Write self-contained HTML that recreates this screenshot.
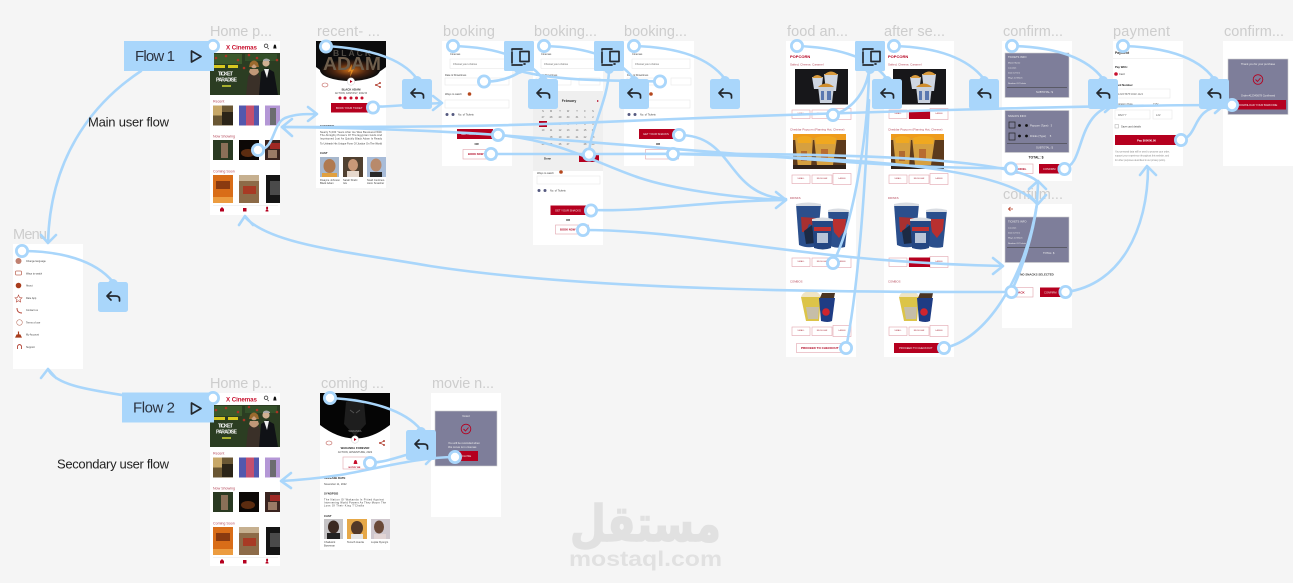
<!DOCTYPE html>
<html lang="en"><head><meta charset="utf-8"><title>User flow diagram</title>
<style>
html,body{margin:0;padding:0;background:#f5f5f5;width:1293px;height:583px;overflow:hidden}
svg{display:block;font-family:"Liberation Sans","DejaVu Sans",sans-serif;filter:blur(.3px)}
.t{fill:#cdcdcd;font-size:14.5px}
.c{fill:#a9d6fb;stroke:none}
.ln{fill:none;stroke:#a9d6fb;stroke-width:2.6;stroke-linecap:round;stroke-linejoin:round}
.n{fill:#fff;stroke:#a9d6fb;stroke-width:2.8}
.i{fill:none;stroke:#24292f;stroke-width:1.7;stroke-linecap:round;stroke-linejoin:round}
.s{font-size:2.6px;fill:#444}
.b{font-size:2.8px;fill:#222;font-weight:bold}
.w{font-size:2.7px;fill:#eee}
.r{font-size:3.6px;fill:#b5485a}
.m{font-size:3px;fill:#b0001e;font-weight:bold}
.hl{font-size:2.6px;fill:#666;font-style:italic}
.box{fill:#fff;stroke:#e2a4ae;stroke-width:.6}
.red{fill:#b5001f}
.dd{fill:#fff;stroke:#e8e8e8;stroke-width:.6}
.panel{fill:#7e7e9a;stroke:#d0d0d0;stroke-width:.6}
</style></head><body>
<svg width="1293" height="583" viewBox="0 0 1293 583" xmlns="http://www.w3.org/2000/svg">
<defs>
<radialGradient id="glow" cx="50%" cy="50%" r="50%"><stop offset="0" stop-color="#c86a18"/><stop offset=".55" stop-color="#4a2410"/><stop offset="1" stop-color="#0b0b0c"/></radialGradient>
<g id="reply"><circle class="c" cx="15" cy="2" r="5"/><rect class="c" width="30" height="30" rx="2.5"/><path class="i" d="M21.500 19v-2q0-3-4-3H9M13 10 9 14l4 4"/></g>
<g id="copy"><circle class="c" cx="15" cy="28" r="5"/><rect class="c" width="30" height="30" rx="1.5"/><path class="i" d="M18 8H8V24H18" stroke-dasharray="11 2"/><rect class="i" x="16" y="10.500" width="9" height="10"/><path class="i" d="M20 23h1"/></g>
<g id="homeimg">
<rect x="210" y="53" width="70" height="42" fill="#2b3d22"/>
<rect x="212" y="54" width="30" height="10" fill="#3c5a2c"/><rect x="245" y="54" width="32" height="7" fill="#34502a"/>
<g fill="#a83424"><circle cx="216" cy="58" r="1.300"/><circle cx="226" cy="56" r="1.300"/><circle cx="238" cy="60" r="1.300"/><circle cx="249" cy="55" r="1.300"/><circle cx="257" cy="58" r="1.300"/><circle cx="277" cy="60" r="1.300"/><circle cx="244" cy="68" r="1.300"/></g>
<path d="M246 95l2-18 3-6h6l3 6 1 18z" fill="#3a3028"/><path d="M249 72q5 7 10 0l-1-3h-8z" fill="#c09878"/><circle cx="254" cy="65" r="3.300" fill="#c8a080"/><path d="M250 63q4-5 8 0l1 4h-2l-3-3-3 3h-2z" fill="#9a6a2e"/>
<path d="M259 95l2-23 6-4 7 4 4 23z" fill="#101216"/><circle cx="266" cy="63" r="3.600" fill="#d0b092"/><path d="M264 69h5l-2 9z" fill="#eee"/><path d="M263 60q3-3 7 0v1h-7z" fill="#aaa"/>
<rect x="214" y="65" width="11" height="3" fill="#d8c820"/><rect x="228" y="65" width="10" height="3" fill="#d8c820"/>
<rect x="222" y="85" width="9" height="2" fill="#a8b030"/>
<rect x="213" y="105.500" width="20" height="20" fill="#6a5734"/><rect x="213" y="105.500" width="9" height="10" fill="#c8a868"/><rect x="222" y="112" width="11" height="13" fill="#2b2418"/>
<rect x="239" y="105.500" width="20" height="20" fill="#5458ad"/><rect x="246" y="105.500" width="8" height="20" fill="#c4506e"/>
<rect x="265" y="105.500" width="15" height="20" fill="#b497d6"/><rect x="270" y="108" width="6" height="17" fill="#6c6c70"/>
<rect x="213" y="140" width="20" height="20" fill="#2a3a22"/><rect x="221" y="143" width="7" height="15" fill="#8a7058"/>
<rect x="239" y="140" width="20" height="20" fill="#0c0806"/><ellipse cx="248" cy="153" rx="7" ry="4" fill="#5c2c10"/>
<rect x="265" y="140" width="15" height="20" fill="#3a2420"/><rect x="270" y="143" width="10" height="6" fill="#a02824"/><rect x="268" y="150" width="9" height="8" fill="#9a7a66"/>
<rect x="213" y="175" width="20" height="28" fill="#d96d18"/><rect x="216" y="181" width="14" height="8" fill="#8a3a10"/><rect x="213" y="197" width="20" height="6" fill="#ec9c40"/>
<rect x="239" y="175" width="20" height="28" fill="#8d6b48"/><rect x="243" y="186" width="13" height="8" fill="#a83a24"/><rect x="239" y="175" width="20" height="6" fill="#c6b090"/>
<rect x="266" y="175" width="14" height="28" fill="#151515"/><rect x="270" y="181" width="10" height="14" fill="#4a4a4a"/>
<rect x="213" y="205" width="65" height=".5" fill="#e6e6e6"/>
<g fill="#b5001f"><path d="M220 211.500v-2.500l2-2 2 2v2.500z"/><rect x="243" y="208" width="3.500" height="3.500"/><path d="M265.500 211.500q0-2 1.500-2t1.500 2zM266.200 208a1 1 0 1 0 1.800 0 1 1 0 1 0-1.800 0"/></g>
<path d="M266 44a1.800 1.800 0 1 0 .1 0zM267.500 47.800l1.300 1.300" fill="none" stroke="#333" stroke-width=".7"/>
<path d="M273.200 48.500c.5-1 .3-4 1.700-4s1.200 3 1.700 4z" fill="#111"/>
</g>
<g id="foodimg">
<rect x="9" y="28" width="53" height="35.500" fill="#17171a"/>
<path d="M26 36h11l-1.500 12H28zM38 33h14l-2 17H40z" fill="#cfd6e2"/><path d="M26 37q5-6 11 0zM38 34q7-7 14 0z" fill="#d99a3c"/>
<path d="M32 45h16l-2 17H34z" fill="#c8d0dc"/><path d="M32 46q8-7 16 0z" fill="#cf8d2e"/><path d="M35 50h3v9h-3zM41 50h4v9h-4z" fill="#5a78b0"/>
<rect x="7" y="93" width="53" height="35" fill="#5c3a1c"/><rect x="7" y="93" width="53" height="6" fill="#ee9c1c"/><path d="M9 97h18l-2 30H12zM28 97h23l-4 27H31z" fill="#d6a040"/><path d="M11 97q8-4 15 0l-1 5H12zM29 97q11-4 21 0l-1 6H30z" fill="#f0a820"/><rect x="15" y="110" width="6" height="10" fill="#b06a30"/><rect x="35" y="108" width="7" height="10" fill="#b86c30"/><rect x="7" y="124" width="53" height="4" fill="#30221a"/>
<path d="M10 163l3 41q9 4 18 1l4-42z" fill="#2b4f8c"/><path d="M15 176l15 1-2 8-5-2-3 8h-4z" fill="#a83030"/><path d="M18 190l8-6 3 18-9 1z" fill="#1c2a44"/>
<path d="M42 169l2 36q8 3 15 1l4-37z" fill="#2b4f8c"/><path d="M46 178h14l-1 11-6 8-5-6z" fill="#b83030"/>
<path d="M10 163q12-3 25 0v2H10zM42 169q10-3 21 0v2H42z" fill="#d8dce2"/>
<path d="M26 178l2 29q9 3 17 0l2-29z" fill="#244682"/><path d="M26 178q10-3 21 0v2H26z" fill="#d8dce2"/><rect x="28" y="186" width="17" height="4" fill="#c03030"/><path d="M31 192h11v10h-11z" fill="#b8c4d8"/>
<path d="M15 256l5 24h13l2-24z" fill="#dcc448"/><path d="M15 256q2-6 10-6t10 6z" fill="#efe4c4"/><path d="M20 266l2 12h10l1-12z" fill="#c6bea8"/>
<path d="M33 257l2 23q7 2 11 0l3-23z" fill="#1e3c84"/><circle cx="40" cy="271" r="3.800" fill="#d0252e"/><path d="M36 252h13l-1 5H34z" fill="#4a3424"/>
</g>
<g id="boxes"><rect class="box" x="0" y="0" width="18" height="8.500"/><rect class="box" x="20" y="0" width="20" height="8.500"/><rect class="box" x="41" y="-1.500" width="18" height="11"/></g>
</defs>

<rect width="1293" height="583" fill="#f5f5f5"/>

<!-- frames -->
<g fill="#fff">
<rect x="210" y="41" width="70" height="174"/><rect x="316" y="41" width="70" height="147"/><rect x="442" y="41" width="70" height="125"/>
<rect x="533" y="41" width="70" height="204"/><rect x="624" y="41" width="70" height="125"/><rect x="786" y="41" width="70" height="316"/>
<rect x="884" y="41" width="70" height="316"/><rect x="1002" y="41" width="70" height="140"/><rect x="1002" y="204" width="70" height="124"/>
<rect x="1113" y="41" width="70" height="125"/><rect x="1223" y="41" width="70" height="125"/><rect x="13" y="244" width="70" height="125"/>
<rect x="210" y="393" width="70" height="173"/><rect x="320" y="393" width="70" height="157"/><rect x="431" y="393" width="70" height="124"/>
</g>

<!-- frame titles -->
<g class="t">
<text x="210" y="36" textLength="62">Home p...</text><text x="317" y="36" textLength="63">recent- ...</text><text x="443" y="36" textLength="52">booking</text>
<text x="534" y="36" textLength="63">booking...</text><text x="624" y="36" textLength="63">booking...</text><text x="787" y="36" textLength="61">food an...</text>
<text x="884" y="36" textLength="61">after se...</text><text x="1003" y="36" textLength="60">confirm...</text><text x="1113" y="36" textLength="57">payment</text>
<text x="1224" y="36" textLength="60">confirm...</text><text x="1003" y="199" textLength="60">confirm...</text><text x="13" y="239" textLength="34">Menu</text>
<text x="210" y="388" textLength="62">Home p...</text><text x="321" y="388" textLength="63">coming ...</text><text x="432" y="388" textLength="62">movie n...</text>
</g>

<!-- Home 1 -->
<use href="#homeimg"/>
<text x="226" y="49.500" font-size="6.200" font-weight="bold" fill="#c8102e" textLength="31">X Cinemas</text>
<text x="218" y="75.500" font-size="5.500" font-weight="bold" fill="#f4f4f4" textLength="15">TICKET</text>
<text x="216" y="81.500" font-size="5" font-weight="bold" fill="#f4f4f4" textLength="21">PARADISE</text>
<text class="r" x="213" y="102.500">Recent</text><text class="r" x="213" y="137.500">Now Showing</text><text class="r" x="213" y="172.500">Coming Soon</text>

<!-- Home 2 -->
<use href="#homeimg" y="352"/>
<text x="226" y="401.500" font-size="6.200" font-weight="bold" fill="#c8102e" textLength="31">X Cinemas</text>
<text x="218" y="427.500" font-size="5.500" font-weight="bold" fill="#f4f4f4" textLength="15">TICKET</text>
<text x="216" y="433.500" font-size="5" font-weight="bold" fill="#f4f4f4" textLength="21">PARADISE</text>
<text class="r" x="213" y="454.500">Recent</text><text class="r" x="213" y="489.500">Now Showing</text><text class="r" x="213" y="524.500">Coming Soon</text>

<!-- Recent movie -->
<path d="M316 41H386V67Q351 95 316 67Z" fill="#0b0b0c"/>
<ellipse cx="350" cy="70" rx="30" ry="11" fill="url(#glow)"/>
<text x="333" y="56" font-size="8.500" font-weight="bold" fill="#4e4a44" textLength="38">BLACK</text>
<text x="323" y="70" font-size="18" font-weight="bold" fill="#6e5e4c" textLength="58" lengthAdjust="spacingAndGlyphs">ADAM</text>
<path d="M352 64l-4 8 3-1-1 6 4-8-3 1z" fill="#e08a20"/>
<circle cx="351" cy="81.500" r="3.700" fill="#fff" stroke="#ccc" stroke-width=".5"/><path d="M350 80l2.500 1.500-2.500 1.500z" fill="#b5001f"/>
<ellipse cx="325" cy="85" rx="3" ry="2" fill="none" stroke="#c0605a" stroke-width=".6"/>
<path d="M376 85l4-2M376 85l4 2" stroke="#b5483a" stroke-width=".7"/><circle cx="376" cy="85" r="1" fill="#b5483a"/><circle cx="380" cy="83" r="1" fill="#b5483a"/><circle cx="380" cy="87" r="1" fill="#b5483a"/>
<text class="b" x="351" y="90.500" text-anchor="middle">BLACK ADAM</text><text class="s" x="351" y="94" text-anchor="middle">ACTION, FANTASY, 2022 R</text>
<g fill="#c8102e"><circle cx="340" cy="98" r="1.500"/><circle cx="345" cy="98" r="1.500"/><circle cx="351" cy="98" r="1.500"/><circle cx="356.500" cy="98" r="1.500"/><circle cx="362" cy="98" r="1.500"/></g>
<rect class="red" x="331" y="103" width="40" height="9.500"/><text class="w" x="336" y="108.800">BOOK YOUR TICKET</text>
<text class="b" x="320" y="127">SYNOPSIS</text>
<g class="s"><text x="320" y="133" textLength="62">Nearly 5,000 Years After He Was Bestowed With</text><text x="320" y="136" textLength="62">The Almighty Powers Of The Egyptian Gods And</text><text x="320" y="139.500" textLength="62">Imprisoned Just As Quickly Black Adam Is Ready</text><text x="320" y="144.500" textLength="62">To Unleash His Unique Form Of Justice On The World</text></g>
<text class="b" x="320" y="154">CAST</text>
<rect x="320" y="157" width="19" height="20" fill="#a7b7cc"/><ellipse cx="329.500" cy="166" rx="6" ry="7" fill="#b07a50"/><rect x="322" y="173" width="15" height="4" fill="#e0a040"/>
<rect x="343" y="157" width="20" height="20" fill="#504030"/><ellipse cx="353" cy="165" rx="5" ry="6" fill="#c89878"/><rect x="347" y="171" width="12" height="6" fill="#e6d8cc"/>
<rect x="367" y="157" width="19" height="20" fill="#a8bcd8"/><ellipse cx="376" cy="165" rx="5.500" ry="6.500" fill="#b88a6c"/><rect x="370" y="172" width="12" height="5" fill="#2a2a2a"/>
<g class="s"><text x="320" y="181">Dwayne Johnson</text><text x="320" y="184">Black Adam</text><text x="343" y="181">Sarah Shahi</text><text x="343" y="184">Isis</text><text x="367" y="181">Noah Centineo</text><text x="367" y="184">Atom Smasher</text></g>

<!-- Booking 1 -->
<g>
<text class="s" x="450" y="55">Cinemas</text><rect class="dd" x="450" y="59" width="58" height="9.500"/><text class="hl" x="453" y="65">Choose your cinema</text>
<text class="s" x="445" y="76">Date &amp; Showtimes</text><rect class="dd" x="445" y="78" width="64" height="7"/>
<text class="s" x="445" y="95">Ways to watch</text><circle cx="469.500" cy="94" r="1.800" fill="#b5481e"/><rect class="dd" x="445" y="100" width="64" height="8"/>
<circle cx="447" cy="114.500" r="1.500" fill="#555a80"/><circle cx="453" cy="114.500" r="1.500" fill="#555a80"/><text class="s" x="458" y="115.500">No. of Tickets</text>
<rect class="red" x="457" y="129" width="36" height="10"/><text class="w" x="461" y="135">GET YOUR SNACKS</text>
<text class="b" x="474.500" y="145">OR</text><rect class="box" x="463" y="149.500" width="33" height="9.500"/><text class="m" x="468" y="155" style="font-size:2.700px">BOOK NOW</text>
</g>

<!-- Booking 2 -->
<text class="s" x="541" y="55">Cinemas</text><rect class="dd" x="541" y="59" width="58" height="9.500"/><text class="hl" x="544" y="65">Choose your cinema</text>
<text class="s" x="536" y="76">Date &amp; Showtimes</text><rect class="dd" x="536" y="78" width="35" height="7"/><rect class="dd" x="579" y="78" width="21" height="7"/>
<rect x="533" y="91" width="70" height="80" fill="#efefef"/>
<text x="569" y="102" font-size="3.400" font-weight="bold" fill="#333" text-anchor="middle">February</text><path d="M597 100l2 1-2 1z" fill="#b5001f"/>
<g font-size="2.500" fill="#666" text-anchor="middle">
<text x="543" y="112">S</text><text x="551" y="112">M</text><text x="560" y="112">T</text><text x="568" y="112">W</text><text x="577" y="112">T</text><text x="585" y="112">F</text><text x="593" y="112">S</text>
<text x="543" y="118">27</text><text x="551" y="118">28</text><text x="560" y="118">29</text><text x="568" y="118">30</text><text x="577" y="118">31</text><text x="585" y="118">1</text><text x="593" y="118">2</text>
<text x="560" y="125">5</text><text x="568" y="125">6</text><text x="577" y="125">7</text><text x="585" y="125">8</text><text x="593" y="125">9</text><text x="551" y="125">4</text>
<text x="543" y="131">10</text><text x="551" y="131">11</text><text x="560" y="131">12</text><text x="568" y="131">13</text><text x="577" y="131">14</text><text x="585" y="131">15</text><text x="593" y="131">16</text>
<text x="551" y="138">18</text><text x="560" y="138">19</text><text x="568" y="138">20</text><text x="577" y="138">21</text><text x="585" y="138">22</text><text x="593" y="138">23</text>
<text x="543" y="145">24</text><text x="551" y="145">25</text><text x="560" y="145">26</text><text x="568" y="145">27</text><text x="585" y="145">28</text><text x="593" y="145">29</text>
</g>
<rect class="red" x="539" y="121" width="8" height="6"/>
<text class="b" x="544" y="159.500">Done</text><rect class="red" x="579" y="155" width="20" height="7"/>
<text class="s" x="537" y="174">Ways to watch</text><circle cx="561" cy="172" r="1.800" fill="#b5481e"/><rect class="dd" x="537" y="176" width="63" height="8"/>
<circle cx="539" cy="190.500" r="1.500" fill="#555a80"/><circle cx="545" cy="190.500" r="1.500" fill="#555a80"/><text class="s" x="550" y="191.500">No. of Tickets</text>
<rect class="red" x="550.500" y="205.500" width="40" height="9.500"/><text class="w" x="555" y="211.500">GET YOUR SNACKS</text>
<text class="b" x="566" y="221">OR</text><rect class="box" x="555.500" y="225" width="33" height="9"/><text class="m" x="560" y="230.500" style="font-size:2.700px">BOOK NOW</text>

<!-- Booking 3 -->
<text class="s" x="632" y="55">Cinemas</text><rect class="dd" x="632" y="59" width="58" height="9.500"/><text class="hl" x="635" y="65">Choose your cinema</text>
<text class="s" x="627" y="76">Date &amp; Showtimes</text><rect class="dd" x="627" y="78" width="35" height="7"/><rect class="dd" x="671" y="78" width="20" height="7"/>
<text class="s" x="627" y="95">Ways to watch</text><circle cx="651" cy="94" r="1.800" fill="#b5481e"/><rect class="dd" x="627" y="100" width="63" height="8"/>
<circle cx="629" cy="114.500" r="1.500" fill="#555a80"/><circle cx="635" cy="114.500" r="1.500" fill="#555a80"/><text class="s" x="640" y="115.500">No. of Tickets</text>
<rect class="red" x="639" y="129" width="40" height="10"/><text class="w" x="643" y="135">GET YOUR SNACKS</text>
<text class="b" x="656" y="145">OR</text><rect class="box" x="645.500" y="149.500" width="33" height="9.500"/><text class="m" x="650" y="155" style="font-size:2.700px">BOOK NOW</text>

<!-- Food -->
<g transform="translate(786,41)"><use href="#foodimg"/></g>
<text x="790" y="58" font-size="4" fill="#b5001f" font-weight="bold">POPCORN</text><text class="r" x="790" y="65.500" style="font-size:3px">Salted, Cheese, Caramel</text>
<text class="r" x="790" y="130.500" style="font-size:3px">Cheddar Popcorn (Flaming Hot, Cheese)</text><text class="r" x="790" y="199" style="font-size:2.800px">DRINKS</text><text class="r" x="790" y="282.500" style="font-size:2.800px">COMBOS</text>
<g transform="translate(792,110)"><use href="#boxes"/></g><g transform="translate(792,175)"><use href="#boxes"/></g><g transform="translate(792,258)"><use href="#boxes"/></g><g transform="translate(792,327)"><use href="#boxes"/></g>
<g font-size="2.200" fill="#b0404e" text-anchor="middle"><text x="801" y="114">SMALL</text><text x="822" y="114">REGULAR</text><text x="842" y="114">LARGE</text><text x="801" y="179">SMALL</text><text x="822" y="179">REGULAR</text><text x="842" y="179">LARGE</text><text x="801" y="262">SMALL</text><text x="822" y="262">REGULAR</text><text x="842" y="262">LARGE</text><text x="801" y="331">SMALL</text><text x="822" y="331">REGULAR</text><text x="842" y="331">LARGE</text></g>
<rect class="box" x="796.500" y="343.500" width="50" height="9"/><text class="m" x="801" y="349">PROCEED TO CHECKOUT</text>

<!-- After -->
<g transform="translate(884,41)"><use href="#foodimg"/></g>
<text x="888" y="58" font-size="4" fill="#b5001f" font-weight="bold">POPCORN</text><text class="r" x="888" y="65.500" style="font-size:3px">Salted, Cheese, Caramel</text>
<text class="r" x="888" y="130.500" style="font-size:3px">Cheddar Popcorn (Flaming Hot, Cheese)</text><text class="r" x="888" y="199" style="font-size:2.800px">DRINKS</text><text class="r" x="888" y="282.500" style="font-size:2.800px">COMBOS</text>
<g transform="translate(889,110)"><use href="#boxes"/></g><g transform="translate(889,175)"><use href="#boxes"/></g><g transform="translate(889,258)"><use href="#boxes"/></g><g transform="translate(889,327)"><use href="#boxes"/></g>
<g font-size="2.200" fill="#b0404e" text-anchor="middle"><text x="898" y="114">SMALL</text><text x="939" y="114">LARGE</text><text x="898" y="179">SMALL</text><text x="919" y="179">REGULAR</text><text x="939" y="179">LARGE</text><text x="898" y="262">SMALL</text><text x="939" y="262">LARGE</text><text x="898" y="331">SMALL</text><text x="919" y="331">REGULAR</text><text x="939" y="331">LARGE</text></g>
<rect class="red" x="909" y="110" width="21" height="9"/><rect class="red" x="909" y="257.500" width="21" height="9.500"/>
<rect class="red" x="894" y="343" width="49" height="10"/><text class="w" x="899" y="349">PROCEED TO CHECKOUT</text>

<!-- Confirm 1 -->
<rect class="panel" x="1005" y="53" width="64" height="44.500"/>
<g class="w"><text x="1008" y="58">TICKETS INFO</text><text x="1008" y="63.500" style="font-size:2.200px">Movie Name</text><text x="1008" y="68.500" style="font-size:2.200px">Location</text><text x="1008" y="73.500" style="font-size:2.200px">Date &amp; Time</text><text x="1008" y="78.500" style="font-size:2.200px">Ways to Watch</text><text x="1008" y="84" style="font-size:2.200px">Number Of Tickets</text><text x="1036" y="93">SUBTOTAL: $</text></g>
<rect x="1007" y="87" width="60" height=".6" fill="#444"/>
<rect class="panel" x="1005" y="110.500" width="64" height="42"/>
<g class="w"><text x="1008" y="117">SNACKS INFO</text><text x="1030" y="126.500">Popcorn (Type) &#160;&#160;3</text><text x="1030" y="137">Drinks (Type) &#160;&#160;&#160;&#160;5</text><text x="1036" y="148.500">SUBTOTAL: $</text></g>
<rect x="1009" y="122" width="6" height="6" fill="none" stroke="#222" stroke-width=".7"/><rect x="1009" y="133" width="6" height="7" fill="none" stroke="#222" stroke-width=".7"/>
<g fill="#111"><circle cx="1019.500" cy="125.500" r="1.400"/><circle cx="1026.500" cy="125.500" r="1.400"/><circle cx="1019.500" cy="136" r="1.400"/><circle cx="1026.500" cy="136" r="1.400"/></g>
<rect x="1007" y="143" width="60" height=".6" fill="#444"/>
<text x="1036" y="158.500" font-size="3.400" font-weight="bold" fill="#222" text-anchor="middle">TOTAL: $</text>
<rect class="box" x="1009" y="164" width="24" height="9.500"/><text class="m" x="1014" y="170">CANCEL</text>
<rect class="red" x="1039" y="164" width="22" height="9.500"/><text class="w" x="1043" y="170">CONFIRM</text>

<!-- Confirm 2 -->
<path d="M1013 209h-4M1010.500 207l-2 2 2 2" fill="none" stroke="#b5381e" stroke-width=".8"/>
<rect class="panel" x="1005" y="217" width="64" height="45.500"/>
<g class="w"><text x="1008" y="222.500">TICKETS INFO</text><text x="1008" y="228.500" style="font-size:2.200px">Location</text><text x="1008" y="233.500" style="font-size:2.200px">Date &amp; Time</text><text x="1008" y="238.500" style="font-size:2.200px">Ways to Watch</text><text x="1008" y="244" style="font-size:2.200px">Number Of Tickets</text><text x="1043" y="254">TOTAL: $</text></g>
<rect x="1007" y="247" width="60" height=".6" fill="#444"/>
<text x="1037" y="275.500" font-size="2.900" font-weight="bold" fill="#333" text-anchor="middle">NO SNACKS SELECTED</text>
<rect class="box" x="1009" y="287.500" width="24" height="9.500"/><text class="m" x="1016" y="293.500">BACK</text>
<rect class="red" x="1040" y="287.500" width="21" height="9.500"/><text class="w" x="1044" y="293.500">CONFIRM</text>

<!-- Payment -->
<text x="1115" y="54" font-size="3.400" font-weight="bold" fill="#333">Payment</text><rect x="1113" y="58" width="70" height=".5" fill="#e6e6e6"/>
<text class="b" x="1115" y="68">Pay With:</text><circle cx="1116" cy="74" r="1.800" fill="#c8102e"/><text class="s" x="1119" y="75">Card</text>
<text class="b" x="1115" y="86">Card Number</text><rect class="dd" x="1115" y="89" width="55" height="9"/><text class="hl" x="1118" y="95">1234 5678 9101 1121</text>
<text class="s" x="1115" y="105">Expiration Date</text><text class="s" x="1153" y="105">CVV</text>
<rect class="dd" x="1115" y="110" width="35" height="9"/><text class="hl" x="1118" y="116">MM/YY</text><rect class="dd" x="1153" y="110" width="19" height="9"/><text class="hl" x="1156" y="116">123</text>
<rect x="1115" y="124.500" width="3.500" height="3.500" fill="#fff" stroke="#aaa" stroke-width=".5"/><text class="s" x="1121" y="127.500">Save card details</text>
<rect class="red" x="1115" y="135" width="62" height="10"/><text x="1137" y="141.500" font-size="2.800" fill="#fff" font-weight="bold">Pay $00000.00</text>
<g font-size="2.300" fill="#888"><text x="1115" y="152.500">Your personal data will be used to process your order,</text><text x="1115" y="156.500">support your experience throughout this website, and</text><text x="1115" y="161">for other purposes described in our privacy policy.</text></g>

<!-- Confirm 3 -->
<rect class="panel" x="1228" y="59" width="60" height="55.500"/>
<text class="w" x="1258" y="65" text-anchor="middle">Thank you for your purchase</text>
<circle cx="1258" cy="79.500" r="4.800" fill="none" stroke="#b5001f" stroke-width=".9"/><path d="M1255.500 79.500l2 2 3-3.500" fill="none" stroke="#b5001f" stroke-width=".9"/>
<text class="w" x="1258" y="96.500" text-anchor="middle">Order #12345678 Confirmed</text>
<rect class="red" x="1233" y="100" width="53" height="9.500"/><text class="w" x="1239" y="106">DOWNLOAD YOUR BARCODE</text>

<!-- Menu -->
<g font-size="2.500" fill="#444">
<text x="26" y="262">Change language</text><text x="26" y="274.500">Ways to watch</text><text x="26" y="286.500">About</text><text x="26" y="299">Rate App</text><text x="26" y="311">Contact us</text><text x="26" y="323.500">Terms of use</text><text x="26" y="335.500">My Account</text><text x="26" y="348">Support</text>
</g>
<g><circle cx="18.500" cy="261" r="3" fill="#c08070"/><rect x="15.500" y="271" width="6" height="4" rx="1" fill="none" stroke="#c07060" stroke-width=".8"/><circle cx="18.500" cy="285.500" r="2.800" fill="#a83c1c"/><path d="M18.500 295l1 2.500 2.500.3-2 1.700.6 2.500-2.100-1.300-2.100 1.300.6-2.500-2-1.700 2.500-.3z" fill="none" stroke="#b5483a" stroke-width=".6"/><path d="M17 308q0 5 5 5" fill="none" stroke="#b5483a" stroke-width=".9"/><circle cx="19.500" cy="322.500" r="2.800" fill="none" stroke="#c08070" stroke-width=".6"/><path d="M16 337h5l-1-2h-3zM18.500 334.500v-3" stroke="#a83c1c" fill="#a83c1c" stroke-width="1.200"/><path d="M17.500 349v-3q2-3 4 0v3" fill="none" stroke="#b5483a" stroke-width=".9"/></g>

<!-- Coming -->
<path d="M320 393H390V425Q355 452 320 425Z" fill="#050505"/><path d="M346 402l9-4 9 4 2 22-11 12-11-12z" fill="#1e1e1e"/><path d="M350 410l4 3M360 410l-4 3" stroke="#555" stroke-width=".8"/>
<text x="355" y="432" font-size="2.600" fill="#999" text-anchor="middle">WAKANDA</text>
<circle cx="355" cy="439.500" r="3.700" fill="#fff" stroke="#ccc" stroke-width=".5"/><path d="M354 438l2.500 1.500-2.500 1.500z" fill="#b5001f"/>
<ellipse cx="329" cy="443" rx="3" ry="2" fill="none" stroke="#c0605a" stroke-width=".6"/>
<path d="M380 443l4-2M380 443l4 2" stroke="#b5483a" stroke-width=".7"/><circle cx="380" cy="443" r="1" fill="#b5483a"/><circle cx="384" cy="441" r="1" fill="#b5483a"/><circle cx="384" cy="445" r="1" fill="#b5483a"/>
<text class="b" x="355" y="449" text-anchor="middle">WAKANDA FOREVER</text><text class="s" x="355" y="453" text-anchor="middle">ACTION, ADVENTURE, 2022</text>
<rect class="box" x="343" y="457" width="26" height="12"/><path d="M353.500 464c.5-1 .3-4 2-4s1.500 3 2 4z" fill="#c8102e"/><text class="m" x="348.500" y="468" style="font-size:2.200px">NOTIFY ME</text>
<text class="b" x="324" y="479">RELEASE DATE</text><text class="s" x="324" y="485">November 11, 2022</text>
<text class="b" x="324" y="494.500">SYNOPSIS</text>
<g class="s"><text x="324" y="500.500" textLength="60">The Nation Of Wakanda Is Pitted Against</text><text x="324" y="503.500" textLength="62">Intervening World Powers As They Mourn The</text><text x="324" y="506.500" textLength="40">Loss Of Their King T'Challa</text></g>
<text class="b" x="324" y="517">CAST</text>
<rect x="324" y="519" width="19" height="20" fill="#c6c4c6"/><ellipse cx="333.500" cy="527" rx="5.500" ry="6.500" fill="#3c2a22"/><rect x="327" y="533" width="13" height="6" fill="#222"/>
<rect x="347" y="519" width="20" height="20" fill="#e6a848"/><ellipse cx="357" cy="528" rx="6" ry="7" fill="#533828"/><rect x="351" y="534" width="12" height="5" fill="#e6e6e6"/>
<rect x="371" y="519" width="19" height="20" fill="#cfc7cd"/><ellipse cx="379" cy="527" rx="5" ry="6.500" fill="#6a4836"/><rect x="374" y="534" width="12" height="5" fill="#e2d4d4"/>
<g class="s"><text x="324" y="543">Chadwick</text><text x="324" y="546.500">Boseman</text><text x="347" y="543">Tenoch Huerta</text><text x="371" y="543">Lupita Nyong'o</text></g>

<!-- Movie noted -->
<rect class="panel" x="435" y="411" width="62" height="55"/>
<text class="w" x="466" y="417" text-anchor="middle">Noted</text>
<circle cx="466" cy="429" r="4.800" fill="none" stroke="#b5001f" stroke-width=".9"/><path d="M463.500 429l2 2 3-3.500" fill="none" stroke="#b5001f" stroke-width=".9"/>
<text class="w" x="448" y="444">You will be reminded when</text><text class="w" x="448" y="447.800">this movie is in cinemas</text>
<rect class="red" x="451" y="451" width="27" height="10"/><text class="w" x="462" y="457">CLOSE</text>

<!-- connectors -->
<g class="ln">
<path d="M141 71C90 105 50 160 48 243M41 235l7 8 8-8"/>
<path d="M22 251C60 251 95 260 113 282"/>
<path d="M258 150C275 150 272 124 285 118 295 114 305 114 316 114M308 107l9 7-9 7"/>
<path d="M326 46C360 48 400 55 417 79"/>
<path d="M373 107C395 106 420 104 442 103M433 96l9 7-9 7"/>
<path d="M1232 105C1100 105 850 112 650 120 500 127 400 127 282 127M292 119l-10 8 10 9"/>
<path d="M498 135C440 131 360 128 282 127"/>
<path d="M453 46C490 47 525 55 543 79"/>
<path d="M544 46C581 47 616 55 634 79"/>
<path d="M634 46C671 47 707 55 725 79"/>
<path d="M484 81.500C500 82 512 77 520 72"/>
<path d="M660 81.500C620 80 560 82 520 71"/>
<path d="M589 154C590 130 608 100 609 71"/>
<path d="M498 135C560 140 600 165 640 178 670 188 730 198 786 200"/>
<path d="M591 210C650 212 700 201 786 200M776 192l10 8-10 8"/>
<path d="M679 135C735 135 725 195 786 199"/>
<path d="M583 230C700 230 800 262 1003 266M993 258l10 8-10 8"/>
<path d="M491 154H589C720 154 1000 150 1037 181M1029 189l9-8 8 8"/>
<path d="M673 154C800 157 1000 160 1037 204M1029 195l9 9 8-9"/>
<path d="M1011 168C900 170 700 150 498 135"/>
<path d="M833 115C850 110 865 95 869 71"/>
<path d="M833 263C855 220 868 130 869 71"/>
<path d="M846 348C858 290 865 190 869 100"/>
<path d="M797 46C830 47 870 55 887 79"/>
<path d="M894 46C930 47 965 55 984 79"/>
<path d="M1012 46C1050 47 1085 55 1103 79"/>
<path d="M1123 46C1160 47 1197 55 1214 79"/>
<path d="M944 348C985 340 1025 280 1037 204 1037 196 1038 190 1038 181"/>
<path d="M1011 292C860 292 600 292 430 266 350 252 270 245 245 217M239 225l6-9 8 9"/>
<path d="M1011 292C1022 270 1033 235 1037 204"/>
<path d="M1066 292C1120 285 1148 230 1148 167M1140 175l7-9 9 9"/>
<path d="M1064 168C1085 165 1075 115 1113 105M1105 98l8 7-8 7"/>
<path d="M1181 140C1200 135 1190 110 1223 105M1215 97l9 8-9 8"/>
<path d="M122 395C90 390 55 385 48 369M41 378l7-9 8 9"/>
<path d="M330 398C370 400 405 410 421 430"/>
<path d="M370 463C385 462 395 458 406 455 415 453 425 456 431 459M426 453l5 6-5 5"/>
<path d="M455 457C420 457 380 468 340 475 320 478 300 480 281 481M291 473l-10 8 10 7"/>
</g>

<!-- flow start boxes -->
<rect class="c" x="124" y="41" width="90" height="30"/><rect class="c" x="122" y="392.500" width="92" height="30"/>
<text x="135" y="61" font-size="15" fill="#2c3340" textLength="40">Flow 1</text>
<text x="133" y="412.500" font-size="15" fill="#2c3340" textLength="42">Flow 2</text>
<path class="i" d="M191.500 51v11l9.500-5.500z" stroke-width="1.200"/><path class="i" d="M191.500 403v11l9.500-5.500z" stroke-width="1.200"/>

<!-- action icons -->
<use href="#copy" x="504" y="41"/><use href="#copy" x="594" y="41"/><use href="#copy" x="855" y="41"/>
<use href="#reply" x="402" y="79"/><use href="#reply" x="528" y="79"/><use href="#reply" x="619" y="79"/><use href="#reply" x="710" y="79"/>
<use href="#reply" x="872" y="79"/><use href="#reply" x="969" y="79"/><use href="#reply" x="1088" y="79"/><use href="#reply" x="1199" y="79"/>
<use href="#reply" x="98" y="282"/><use href="#reply" x="406" y="430"/>

<!-- nodes -->
<g class="n">
<circle cx="213" cy="46" r="5.600"/><circle cx="258" cy="150" r="5.600"/><circle cx="326" cy="46.500" r="5.600"/><circle cx="373" cy="107.500" r="5.600"/><circle cx="22" cy="251" r="5.600"/>
<circle cx="453" cy="46" r="5.600"/><circle cx="484" cy="81.500" r="5.600"/><circle cx="498" cy="135" r="5.600"/><circle cx="491" cy="154" r="5.600"/>
<circle cx="544" cy="46" r="5.600"/><circle cx="589" cy="154.500" r="5.600"/><circle cx="591" cy="210.500" r="5.600"/><circle cx="583" cy="230" r="5.600"/>
<circle cx="634" cy="46" r="5.600"/><circle cx="660" cy="81.500" r="5.600"/><circle cx="679" cy="135" r="5.600"/><circle cx="673" cy="154" r="5.600"/>
<circle cx="797" cy="46" r="5.600"/><circle cx="833" cy="115" r="5.600"/><circle cx="833" cy="263" r="5.600"/><circle cx="846" cy="348" r="5.600"/>
<circle cx="894" cy="46" r="5.600"/><circle cx="944" cy="348" r="5.600"/><circle cx="1012" cy="46" r="5.600"/><circle cx="1011" cy="168.500" r="5.600"/><circle cx="1064.500" cy="169" r="5.600"/>
<circle cx="1011.500" cy="292" r="5.600"/><circle cx="1065.500" cy="292" r="5.600"/><circle cx="1123" cy="46" r="5.600"/><circle cx="1181" cy="140" r="5.600"/><circle cx="1232" cy="105" r="5.600"/>
<circle cx="213" cy="398" r="5.600"/><circle cx="330" cy="398" r="5.600"/><circle cx="370" cy="463" r="5.600"/><circle cx="455" cy="457" r="5.600"/>
</g>

<!-- captions -->
<text x="88" y="126.500" font-size="13" fill="#222" textLength="81">Main user flow</text>
<text x="57" y="468.500" font-size="13" fill="#222" textLength="112">Secondary user flow</text>

<!-- watermark -->
<text x="570" y="541" font-family="'DejaVu Sans',sans-serif" font-size="50" font-weight="bold" fill="#e1e1e1" stroke="#e1e1e1" stroke-width="1.500" textLength="151" lengthAdjust="spacingAndGlyphs">مستقل</text>
<text x="569" y="566" font-size="21" font-weight="bold" fill="#e1e1e1" textLength="153" lengthAdjust="spacingAndGlyphs">mostaql.com</text>
</svg>
</body></html>
